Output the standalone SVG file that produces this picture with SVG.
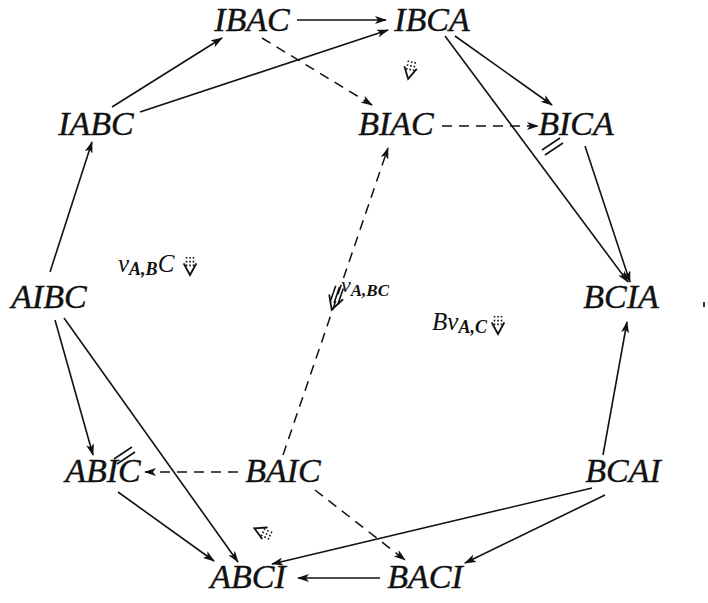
<svg xmlns="http://www.w3.org/2000/svg" width="708" height="603" viewBox="0 0 708 603">
<style>
.n{font-family:"Liberation Serif","Times New Roman",serif;font-style:italic;font-size:34px;fill:#111;stroke:#111;stroke-width:0.4;text-anchor:middle}
.l{font-family:"Liberation Serif","Times New Roman",serif;font-style:italic;fill:#111}
.s{fill:none;stroke:#111;stroke-width:1.6}
.d{fill:none;stroke:#111;stroke-width:1.5;stroke-dasharray:10,7}
.dot{fill:none;stroke:#111;stroke-width:1.6;stroke-dasharray:1.6,2.2}
.h{fill:none;stroke:#111;stroke-width:1.8;stroke-linecap:round}
</style>
<defs>
<marker id="a" viewBox="0 0 12 8" refX="11" refY="4" markerWidth="12" markerHeight="8" markerUnits="userSpaceOnUse" orient="auto">
<path d="M0,0 L12,4 L0,8 L3,4 z" fill="#111"/>
</marker>
<g id="tri">
<line class="dot" x1="-3.5" y1="-14" x2="-3.5" y2="-4"/>
<line class="dot" x1="0" y1="-14" x2="0" y2="-4"/>
<line class="dot" x1="3.5" y1="-14" x2="3.5" y2="-4"/>
<path class="h" d="M-6,-7 L0,4 L6,-7"/>
</g>
</defs>
<g id="connectors">
<line class="s" x1="297" y1="20" x2="386" y2="20" marker-end="url(#a)"/>
<line class="s" x1="112" y1="107" x2="222" y2="38" marker-end="url(#a)"/>
<line class="s" x1="140" y1="112" x2="388" y2="30" marker-end="url(#a)"/>
<line class="s" x1="455" y1="36" x2="552" y2="105" marker-end="url(#a)"/>
<line class="s" x1="445" y1="36" x2="628" y2="282" marker-end="url(#a)"/>
<line class="s" x1="585" y1="146" x2="630" y2="282" marker-end="url(#a)"/>
<line class="s" x1="50" y1="272" x2="92" y2="142" marker-end="url(#a)"/>
<line class="s" x1="55" y1="320" x2="93" y2="455" marker-end="url(#a)"/>
<line class="s" x1="64" y1="318" x2="238" y2="562" marker-end="url(#a)"/>
<line class="s" x1="118" y1="492" x2="214" y2="561" marker-end="url(#a)"/>
<line class="s" x1="603" y1="455" x2="627" y2="322" marker-end="url(#a)"/>
<line class="s" x1="592" y1="488" x2="272" y2="564" marker-end="url(#a)"/>
<line class="s" x1="605" y1="495" x2="465" y2="563" marker-end="url(#a)"/>
<line class="s" x1="380" y1="578" x2="298" y2="578" marker-end="url(#a)"/>
<line class="d" x1="262" y1="38" x2="372" y2="105" marker-end="url(#a)"/>
<line class="d" x1="442" y1="126" x2="538" y2="126" marker-end="url(#a)"/>
<line class="d" x1="283" y1="455" x2="388" y2="148" marker-end="url(#a)"/>
<line class="d" x1="238" y1="472" x2="145" y2="472" marker-end="url(#a)"/>
<line class="d" x1="315" y1="490" x2="405" y2="560" marker-end="url(#a)"/>
<line class="s" x1="542" y1="150" x2="560" y2="138"/>
<line class="s" x1="545" y1="155" x2="563" y2="143"/>
<line class="s" x1="114" y1="459" x2="132" y2="447"/>
<line class="s" x1="117" y1="464" x2="135" y2="452"/>
</g>
<g id="cells">
<use href="#tri" transform="translate(409,75) rotate(12)"/>
<use href="#tri" transform="translate(190,271)"/>
<use href="#tri" transform="translate(498,330)"/>
<use href="#tri" transform="translate(258,530) rotate(115)"/>
<g transform="translate(333,306) rotate(19)">
<line class="s" x1="-4" y1="-20" x2="-4" y2="-3"/>
<line class="s" x1="0" y1="-20" x2="0" y2="-3"/>
<line class="s" x1="4" y1="-20" x2="4" y2="-3"/>
<path class="h" d="M-7,-9 L0,4 L7,-9"/>
</g>
<text class="l" x="118" y="272" font-size="25">ν<tspan font-size="18" font-weight="bold" dy="3">A,B</tspan><tspan dy="-3">C</tspan></text>
<text class="l" x="432" y="330" font-size="25">Bν<tspan font-size="18" font-weight="bold" dy="3">A,C</tspan></text>
<text class="l" x="341" y="292" font-size="22">ν<tspan font-size="17" font-weight="bold" dy="4">A,BC</tspan></text>
<rect x="703" y="302" width="2" height="5" fill="#333"/>
</g>
<g id="IBAC"><text class="n" x="252" y="31">IBAC</text></g>
<g id="IBCA"><text class="n" x="432" y="31">IBCA</text></g>
<g id="IABC"><text class="n" x="96" y="135">IABC</text></g>
<g id="BIAC"><text class="n" x="396" y="135">BIAC</text></g>
<g id="BICA"><text class="n" x="576" y="135">BICA</text></g>
<g id="AIBC"><text class="n" x="49" y="308">AIBC</text></g>
<g id="BCIA"><text class="n" x="621" y="308">BCIA</text></g>
<g id="ABIC"><text class="n" x="103" y="482">ABIC</text></g>
<g id="BAIC"><text class="n" x="283" y="482">BAIC</text></g>
<g id="BCAI"><text class="n" x="623" y="482">BCAI</text></g>
<g id="ABCI"><text class="n" x="248" y="588">ABCI</text></g>
<g id="BACI"><text class="n" x="425" y="588">BACI</text></g>
</svg>
